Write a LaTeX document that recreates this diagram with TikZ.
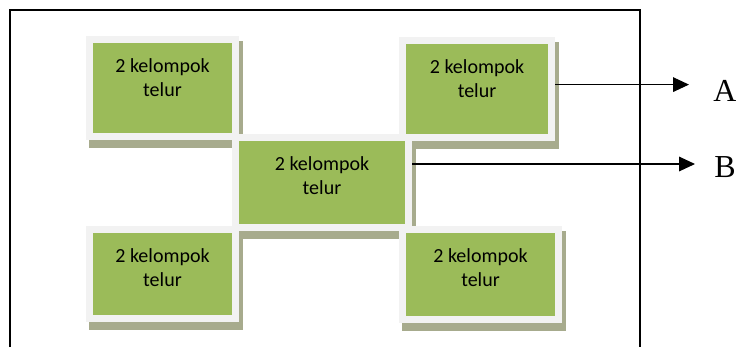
\documentclass[tikz,border=0pt]{standalone}
\usepackage{fontspec}
\setmainfont{Carlito}
\newfontfamily\tagfont{Liberation Serif}
\usetikzlibrary{arrows.meta,calc,backgrounds}
\definecolor{boxgreen}{HTML}{9BBB59}
\definecolor{boxrim}{HTML}{F2F2F2}
\definecolor{boxshade}{HTML}{A7AB8D}

% one egg-group box: name, centre, green width, green height (in px units)
\newcommand\eggbox[4]{%
  \node[eggbox, minimum width={(#3+7)*0.75pt}, minimum height={(#4+7)*0.75pt}] (#1) at (#2) {};
  \begin{scope}[on background layer]
    \fill[boxshade] ($(#1.north west)+(3,5)$) rectangle ($(#1.south east)+(4,8)$);
  \end{scope}
  % anchor=base sits on the last line ("telur")
  \node[eggtext] (#1-t) at ($(#1.north)+(0,60)$) {2 kelompok\\telur};
}

\begin{document}
\begin{tikzpicture}[x=0.75pt,y=-0.75pt,
  eggbox/.style={fill=boxgreen, draw=boxrim, line width=5.25pt, inner sep=0pt},
  eggtext/.style={font=\fontsize{15}{18}\selectfont, align=center, anchor=base, inner sep=0pt},
  arr/.style={-{Triangle[length=12pt,width=11pt]}, line width=0.9pt},
  tag/.style={font=\tagfont\fontsize{24}{28}\selectfont, inner sep=0pt}]

\useasboundingbox (0,0) rectangle (736,347);

% open outer frame
\draw[line width=1.1pt] (10,347) -- (10,10) -- (640,10) -- (640,347);

% boxes
\eggbox{tl}{162.5,88}{139}{90}
\eggbox{tr}{477,89}{142}{90}
\eggbox{c}{322,182.5}{166}{83}
\eggbox{bl}{162.5,274}{139}{82}
\eggbox{br}{480.5,274.5}{149}{83}

% arrows to the labels
\coordinate (aTip) at (689,84.6);
\coordinate (bTip) at (695,164);
\draw[arr] (tr.east |- aTip) -- (aTip);
\draw[arr] (c.east |- bTip) -- (bTip);

\node[tag] (labA) at (725,91) {A};
\node[tag] (labB) at (725,167) {B};
\end{tikzpicture}
\end{document}
